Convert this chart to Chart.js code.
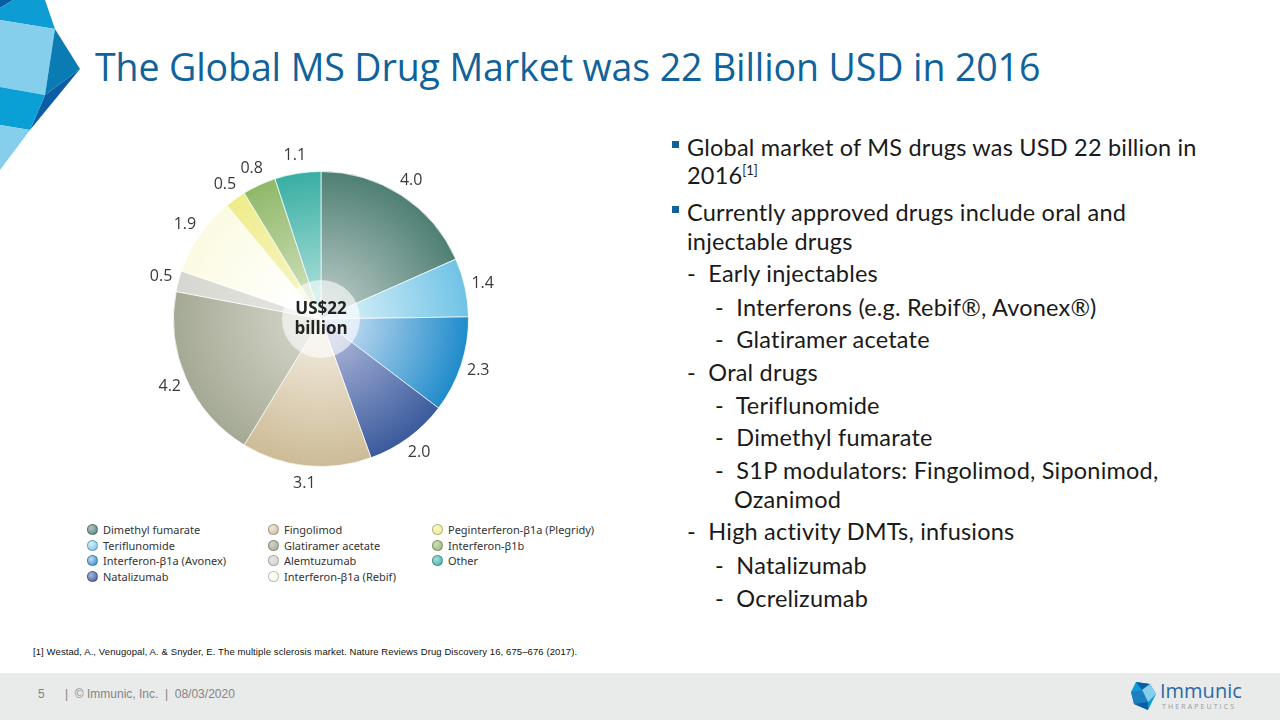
<!DOCTYPE html>
<html>
<head>
<meta charset="utf-8">
<script src="https://cdn.jsdelivr.net/npm/chart.js@4.4.0/dist/chart.umd.min.js"></script>
<style>
  html, body { margin: 0; padding: 0; }
  body { width: 1280px; height: 720px; position: relative; overflow: hidden; background: #fff; font-family: 'Open Sans', sans-serif; }
  #deco { position: absolute; left: 0; top: 0; }
  #title { position: absolute; left: 95px; top: 41px; font-size: 37.5px; letter-spacing: -0.1px; color: #11629a; white-space: nowrap; }
  #pie-wrap { position: absolute; left: 131px; top: 129px; width: 380px; height: 380px; }
  #legend { position: absolute; left: 0; top: 0; font-family: 'Noto Sans', sans-serif; font-size: 11px; color: #333; }
  .lg { position: absolute; white-space: nowrap; line-height: 14px; }
  .lg i { position: absolute; left: -16px; top: 1px; width: 11px; height: 11px; border-radius: 50%; box-sizing: border-box; border: 1px solid rgba(0,0,0,0.25); }
  #bullets { position: absolute; left: 0; top: 0; font-family: Lato, sans-serif; font-size: 23.5px; letter-spacing: 0.2px; color: #1a1a1a; }
  .ln { position: absolute; white-space: nowrap; line-height: 28px; }
  .sq { position: absolute; width: 7px; height: 7px; background: #11629a; }
  sup { font-size: 13px; vertical-align: 9px; line-height: 0; letter-spacing: 0; }
  #ref { position: absolute; left: 33px; top: 646px; font-family: 'Liberation Sans Narrow', 'Liberation Sans', sans-serif; font-size: 9.5px; letter-spacing: 0.1px; color: #111; white-space: nowrap; }
  #footer { position: absolute; left: 0; top: 673px; width: 1280px; height: 47px; background: #e9eaea; }
  #footer span { position: absolute; top: 14px; font-family: 'Liberation Sans', sans-serif; font-size: 12px; color: #858585; }
  #logo-text { position: absolute; left: 1160px; top: 680px; font-family: 'Open Sans', sans-serif; font-size: 20px; color: #2a6aa6; line-height: 22px; }
  #logo-sub { position: absolute; left: 1162px; top: 702px; font-family: 'Open Sans', sans-serif; font-size: 7px; letter-spacing: 2.1px; color: #9a9a9a; }
</style>
</head>
<body>
<svg id="deco" width="90" height="175" viewBox="0 0 90 175">
  <polygon points="0,0 13,0 0,8" fill="#0b5ea5"/>
  <polygon points="0,8 13,0 45,0 55,29 0,20" fill="#0e9cd4"/>
  <polygon points="0,20 55,29 45,95 0,87" fill="#86cfec"/>
  <polygon points="55,29 80,69 45,95" fill="#0b7bb3"/>
  <polygon points="45,95 80,69 30,130" fill="#0b5ea5"/>
  <polygon points="0,87 45,95 30,130 0,125" fill="#0aa0d6"/>
  <polygon points="0,125 30,130 0,170" fill="#86cfec"/>
</svg>

<div id="title">The Global MS Drug Market was 22 Billion USD in 2016</div>

<div id="pie-wrap"><canvas id="pieChart"></canvas></div>
<div id="legend"></div>

<div id="bullets">
  <div class="sq" style="left:672px;top:141px"></div>
  <div class="ln" style="left:687px;top:133px">Global market of MS drugs was USD 22 billion in</div>
  <div class="ln" style="left:687px;top:161px">2016<sup>[1]</sup></div>
  <div class="sq" style="left:672px;top:206px"></div>
  <div class="ln" style="left:687px;top:198px">Currently approved drugs include oral and</div>
  <div class="ln" style="left:687px;top:227px">injectable drugs</div>
  <div class="ln" style="left:687px;top:259px">-&nbsp; Early injectables</div>
  <div class="ln" style="left:715px;top:293px">-&nbsp; Interferons (e.g. Rebif®, Avonex®)</div>
  <div class="ln" style="left:715px;top:325px">-&nbsp; Glatiramer acetate</div>
  <div class="ln" style="left:687px;top:358px">-&nbsp; Oral drugs</div>
  <div class="ln" style="left:715px;top:391px">-&nbsp; Teriflunomide</div>
  <div class="ln" style="left:715px;top:423px">-&nbsp; Dimethyl fumarate</div>
  <div class="ln" style="left:715px;top:456px">-&nbsp; S1P modulators: Fingolimod, Siponimod,</div>
  <div class="ln" style="left:734px;top:485px">Ozanimod</div>
  <div class="ln" style="left:687px;top:517px">-&nbsp; High activity DMTs, infusions</div>
  <div class="ln" style="left:715px;top:551px">-&nbsp; Natalizumab</div>
  <div class="ln" style="left:715px;top:584px">-&nbsp; Ocrelizumab</div>
</div>

<div id="ref">[1] Westad, A., Venugopal, A. &amp; Snyder, E. The multiple sclerosis market. Nature Reviews Drug Discovery 16, 675–676 (2017).</div>

<div id="footer">
  <span style="left:38px">5</span>
  <span style="left:65px">|&nbsp; © Immunic, Inc.&nbsp; |&nbsp; 08/03/2020</span>
</div>
<svg style="position:absolute;left:1130px;top:680px" width="28" height="32" viewBox="0 0 28 32">
  <polygon points="6,2 20,4 26,14 18,30 4,24 1,12" fill="#0e9cd4"/>
  <polygon points="6,2 20,4 12,10" fill="#0b5ea5"/>
  <polygon points="12,10 20,4 26,14 18,22" fill="#86cfec"/>
  <polygon points="1,12 12,10 18,22 4,24" fill="#1e7fc0"/>
  <polygon points="4,24 18,22 18,30" fill="#0b5ea5"/>
</svg>
<div id="logo-text">Immunic</div>
<div id="logo-sub">THERAPEUTICS</div>

<script>
// Market share by drug, 2016 (USD billion), clockwise from 12 o'clock
const drugs = ['Dimethyl fumarate', 'Teriflunomide', 'Interferon-β1a (Avonex)', 'Natalizumab',
  'Fingolimod', 'Glatiramer acetate', 'Alemtuzumab', 'Interferon-β1a (Rebif)',
  'Peginterferon-β1a (Plegridy)', 'Interferon-β1b', 'Other'];
const sales = [4.0, 1.4, 2.3, 2.0, 3.1, 4.2, 0.5, 1.9, 0.5, 0.8, 1.1];
const valueLabels = ['4.0', '1.4', '2.3', '2.0', '3.1', '4.2', '0.5', '1.9', '0.5', '0.8', '1.1'];

// outer / inner gradient stops for each slice
const outerColors = ['#4e7f73', '#6fc3e6', '#1e8bcb', '#3a5a9c', '#cdbb96', '#a4a994',
  '#d6d7d1', '#fbfbe2', '#efec8a', '#8fb868', '#38aea3'];
const innerColors = ['#b4c6c2', '#d6eff8', '#c4dcf1', '#aab4d8', '#efe8da', '#d2d3c6',
  '#e4e5e0', '#ffffff', '#f7f6c8', '#cfe0bc', '#a9dfd9'];

// legend layout: which drugs go in which column
const legendCols = [[0, 1, 2, 3], [4, 5, 6, 7], [8, 9, 10]];

function buildLegend() {
  const colX = [103, 284, 448];
  const rowY = [523, 539, 554, 570];
  let html = '';
  legendCols.forEach((col, c) => {
    col.forEach((idx, r) => {
      html += `<div class="lg" style="left:${colX[c]}px;top:${rowY[r]}px">` +
        `<i style="background:radial-gradient(circle at 35% 35%, ${innerColors[idx]}, ${outerColors[idx]})"></i>` +
        `${drugs[idx]}</div>`;
    });
  });
  document.getElementById('legend').innerHTML = html;
}

function sliceFill(ctx) {
  const chart = ctx.chart;
  const area = chart.chartArea;
  const i = ctx.dataIndex;
  if (!area || i === undefined) return outerColors[i] || '#ccc';
  const cx = (area.left + area.right) / 2;
  const cy = (area.top + area.bottom) / 2;
  const r = Math.min(area.right - area.left, area.bottom - area.top) / 2;
  const g = chart.ctx.createRadialGradient(cx, cy, r * 0.15, cx, cy, r);
  g.addColorStop(0, innerColors[i]);
  g.addColorStop(1, outerColors[i]);
  return g;
}

// value labels outside the slices + the centre badge
const pieExtras = {
  id: 'pieExtras',
  afterDatasetsDraw(chart) {
    const ctx = chart.ctx;
    const meta = chart.getDatasetMeta(0);
    ctx.save();
    ctx.font = '16px "Open Sans", sans-serif';
    ctx.fillStyle = '#3a3a3a';
    ctx.textAlign = 'center';
    ctx.textBaseline = 'middle';
    meta.data.forEach((arc, i) => {
      const p = arc.getProps(['x', 'y', 'startAngle', 'endAngle', 'outerRadius'], true);
      const mid = (p.startAngle + p.endAngle) / 2;
      const rr = p.outerRadius + 18;
      ctx.fillText(valueLabels[i], p.x + Math.cos(mid) * rr, p.y + Math.sin(mid) * rr);
    });
    const a0 = meta.data[0];
    ctx.beginPath();
    ctx.arc(a0.x, a0.y, 39, 0, Math.PI * 2);
    ctx.fillStyle = 'rgba(255,255,255,0.6)';
    ctx.fill();
    ctx.fillStyle = '#222';
    ctx.font = 'bold 17px "Open Sans", sans-serif';
    ctx.fillText('US$22', a0.x, a0.y - 10);
    ctx.fillText('billion', a0.x, a0.y + 10);
    ctx.restore();
  }
};

function renderPie() {
  const ctx = document.getElementById('pieChart').getContext('2d');
  new Chart(ctx, {
    type: 'pie',
    data: {
      labels: drugs,
      datasets: [{
        data: sales,
        backgroundColor: sliceFill,
        borderColor: 'rgba(255,255,255,0.7)',
        borderWidth: 1
      }]
    },
    options: {
      responsive: true,
      maintainAspectRatio: false,
      animation: false,
      layout: { padding: 42 },
      plugins: { legend: { display: false }, tooltip: { enabled: false } }
    },
    plugins: [pieExtras]
  });
}

buildLegend();
renderPie();
</script>
</body>
</html>
